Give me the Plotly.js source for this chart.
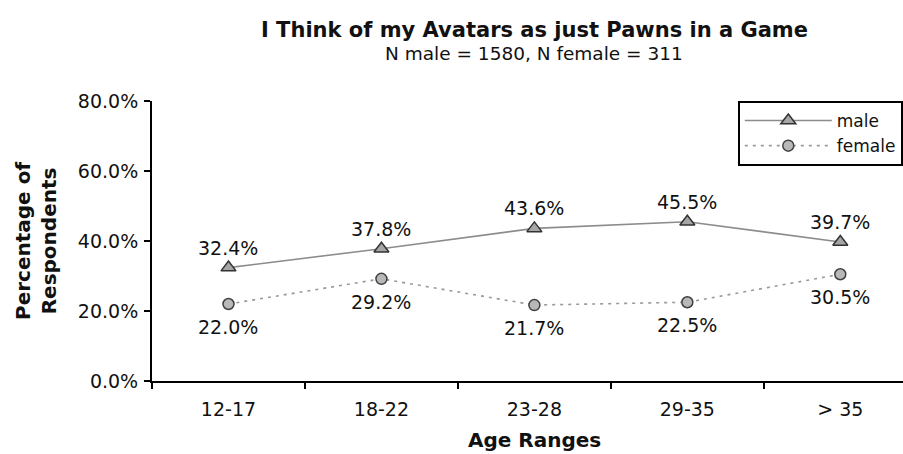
<!DOCTYPE html>
<html>
<head>
<meta charset="utf-8">
<script src="https://cdn.plot.ly/plotly-3.0.1.min.js"></script>
<style>html,body{margin:0;padding:0;background:#fff;}#chart{width:903px;height:454px;}</style>
</head>
<body>
<div id="chart"></div>
<script>
const categories = ["12-17", "18-22", "23-28", "29-35", "> 35"];
const maleValues = [32.4, 37.8, 43.6, 45.5, 39.7];
const femaleValues = [22.0, 29.2, 21.7, 22.5, 30.5];
const yTickValues = [0, 20, 40, 60, 80];

const FONT = "DejaVu Sans, Verdana, sans-serif";
const fmt = v => v.toFixed(1) + "%";

const male = {
  x: categories, y: maleValues, name: "male", type: "scatter",
  mode: "lines+markers",
  line: {color: "#8c8c8c", width: 1.6},
  marker: {symbol: "triangle-up", size: 13, color: "#a6a6a6", line: {color: "#333", width: 1.5}},
  cliponaxis: false
};
const female = {
  x: categories, y: femaleValues, name: "female", type: "scatter",
  mode: "lines+markers",
  line: {color: "#999999", width: 1.6, dash: "3px,5px"},
  marker: {symbol: "circle", size: 11, color: "#b8b8b8", line: {color: "#404040", width: 1.5}},
  cliponaxis: false
};

const labelFont = {family: FONT, size: 19, color: "#111"};
const valueLabels = [];
categories.forEach((c, i) => {
  valueLabels.push({x: c, y: maleValues[i], xref: "x", yref: "y", text: fmt(maleValues[i]),
    showarrow: false, yshift: 20, xanchor: "center", yanchor: "middle", font: labelFont});
  valueLabels.push({x: c, y: femaleValues[i], xref: "x", yref: "y", text: fmt(femaleValues[i]),
    showarrow: false, yshift: -23, xanchor: "center", yanchor: "middle", font: labelFont});
});

const layout = {
  width: 903, height: 454,
  paper_bgcolor: "#fff", plot_bgcolor: "#fff",
  margin: {l: 152, r: 0, t: 101, b: 73},
  font: {family: FONT, color: "#111"},
  showlegend: true,
  legend: {
    x: 0.78, y: 1, xanchor: "left", yanchor: "top",
    bgcolor: "#fff", bordercolor: "#000", borderwidth: 2,
    itemwidth: 87,
    font: {family: FONT, size: 17, color: "#111"}
  },
  xaxis: {
    type: "category", range: [-0.5, 4.41],
    tickson: "boundaries", ticks: "outside", ticklen: 6, tickwidth: 2, tickcolor: "#000",
    showline: true, linecolor: "#000", linewidth: 2,
    showgrid: false, zeroline: false, ticklabelstandoff: 10,
    tickfont: {family: FONT, size: 19, color: "#111"}
  },
  yaxis: {
    range: [0, 80], tickvals: yTickValues, ticktext: yTickValues.map(fmt),
    ticks: "outside", ticklen: 6, tickwidth: 2, tickcolor: "#000",
    showline: true, linecolor: "#000", linewidth: 2,
    showgrid: false, zeroline: false, ticklabelstandoff: 2,
    tickfont: {family: FONT, size: 19, color: "#111"}
  },
  annotations: valueLabels.concat([
    {text: "<b>I Think of my Avatars as just Pawns in a Game</b>", xref: "paper", yref: "paper",
     x: 0.509, y: 1 + (101 - 30) / 280, xanchor: "center", yanchor: "middle", showarrow: false,
     font: {family: FONT, size: 21, color: "#111"}},
    {text: "N male = 1580, N female = 311", xref: "paper", yref: "paper",
     x: 0.509, y: 1 + (101 - 54) / 280, xanchor: "center", yanchor: "middle", showarrow: false,
     font: {family: FONT, size: 18.5, color: "#111"}},
    {text: "<b>Age Ranges</b>", xref: "paper", yref: "paper",
     x: 0.509, y: -(440 - 381) / 280, xanchor: "center", yanchor: "middle", showarrow: false,
     font: {family: FONT, size: 20, color: "#111"}},
    {text: "<b>Percentage of<br>Respondents</b>", xref: "paper", yref: "paper",
     x: (36 - 152) / 751, y: 0.5, xanchor: "center", yanchor: "middle", showarrow: false,
     textangle: -90, font: {family: FONT, size: 20, color: "#111"}}
  ])
};

Plotly.newPlot("chart", [male, female], layout, {displayModeBar: false, staticPlot: true});
</script>
</body>
</html>
